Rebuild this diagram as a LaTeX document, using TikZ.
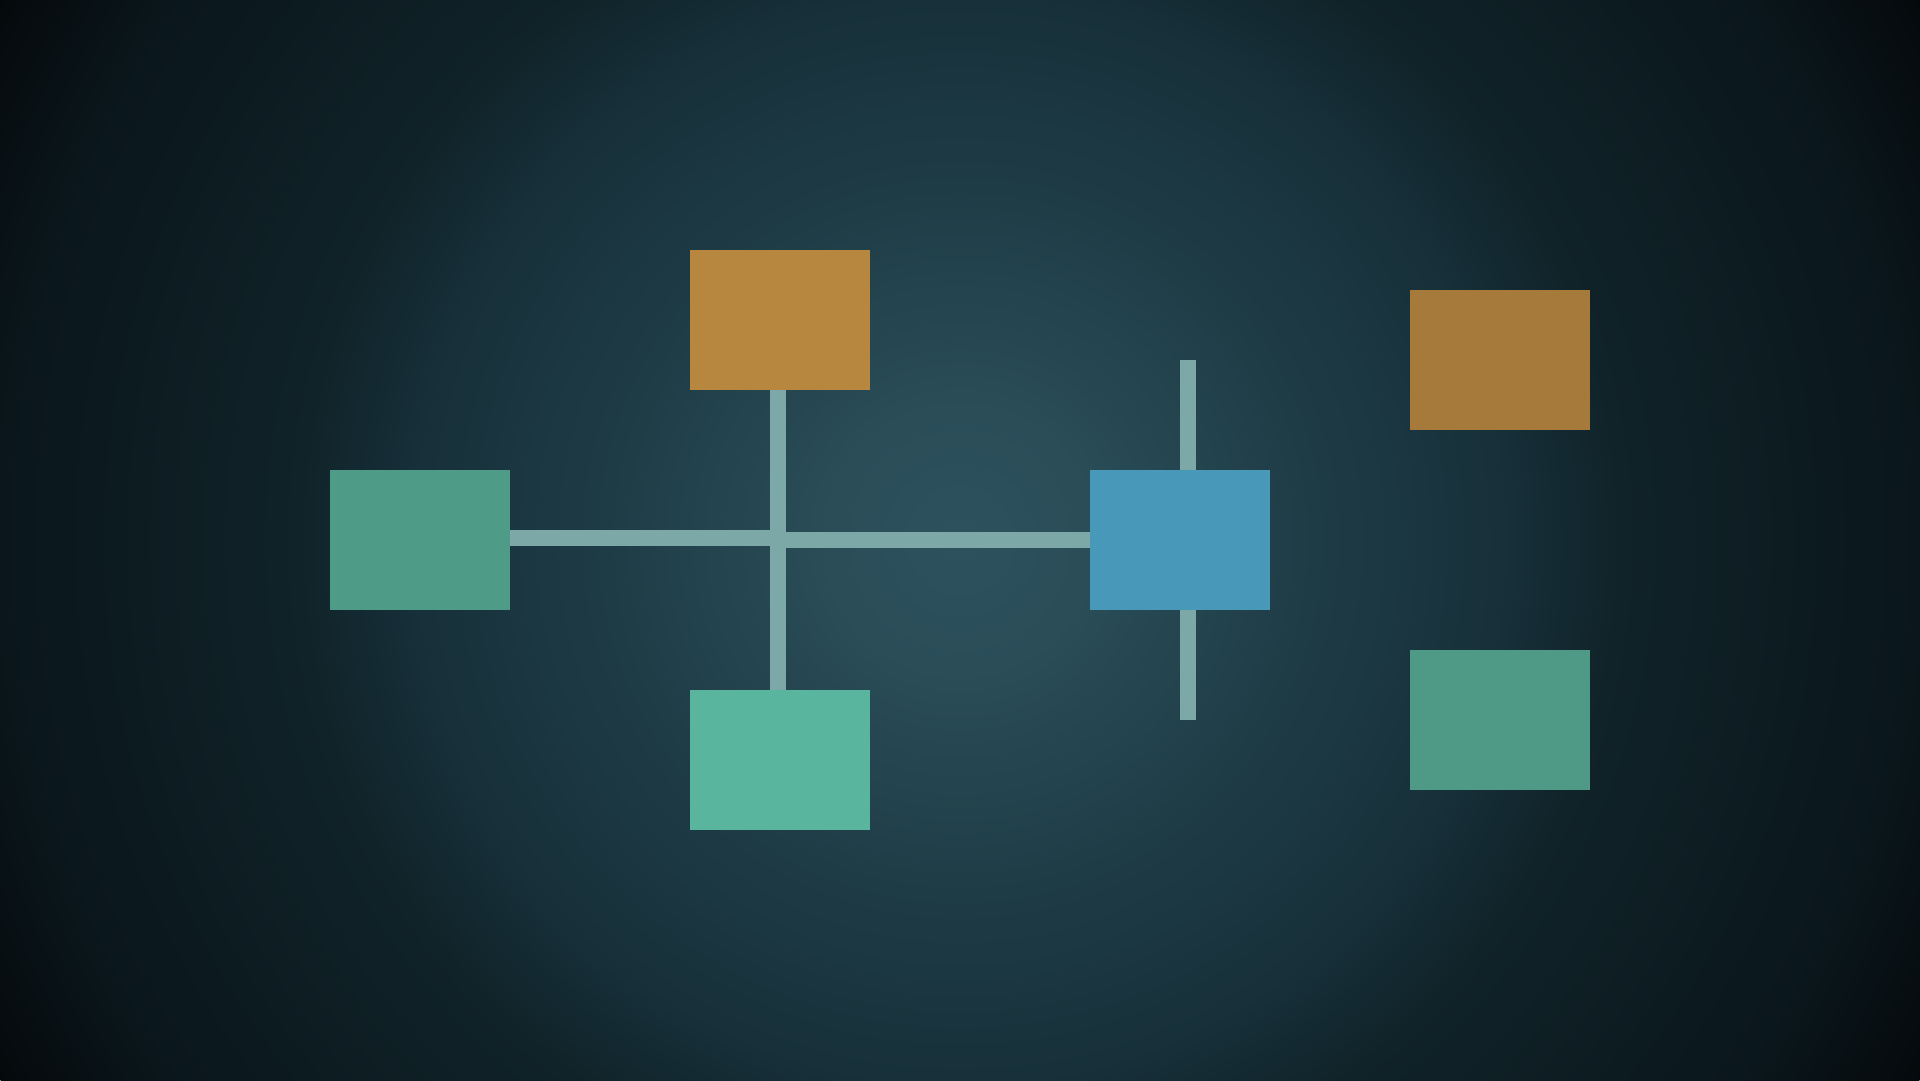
\documentclass[tikz,border=0pt]{standalone}
\usepackage{tikz}
\definecolor{bgA}{HTML}{2D525E}
\definecolor{bgB}{HTML}{2A4D58}
\definecolor{bgC}{HTML}{1F3D47}
\definecolor{bgD}{HTML}{17303A}
\definecolor{bgE}{HTML}{102329}
\definecolor{bgF}{HTML}{0A161B}
\definecolor{bgG}{HTML}{05090C}
\definecolor{bgH}{HTML}{030507}
\definecolor{orangeA}{HTML}{B8873F}
\definecolor{orangeB}{HTML}{A67A3A}
\definecolor{tealA}{HTML}{4E9C88}
\definecolor{tealB}{HTML}{5AB59E}
\definecolor{tealC}{HTML}{4E9A87}
\definecolor{blueA}{HTML}{4899B9}
\definecolor{linkC}{HTML}{7CA9A8}
\pgfdeclareradialshading{vign}{\pgfpoint{0bp}{0bp}}{%
color(0bp)=(bgA); color(3bp)=(bgB); color(7.7bp)=(bgC); color(12.3bp)=(bgD);
color(15bp)=(bgE); color(21.8bp)=(bgF); color(25bp)=(bgG); color(50bp)=(bgH)}
\pgfdeclarelayer{backdrop}
\pgfdeclarelayer{links}
\pgfsetlayers{backdrop,links,main}
\tikzset{
  box/.style={rectangle, draw=none, minimum width=180pt, minimum height=140pt, inner sep=0pt, outer sep=0pt},
  link/.style={draw=linkC, line width=16pt, line cap=butt}
}
\begin{document}
\begin{tikzpicture}[x=1pt,y=-1pt]
\useasboundingbox (0,0) rectangle (1920,1080);
\begin{pgfonlayer}{backdrop}
\fill[bgH] (0,0) rectangle (1920,1080);
\begin{scope}
\clip (0,0) rectangle (1920,1080);
\shade[shading=vign] (960,540) circle[radius=1101pt];
\end{scope}
\end{pgfonlayer}
% nodes
\node[box, fill=orangeA] (top) at (780,320) {};
\node[box, fill=tealA] (left) at (420,540) {};
\node[box, fill=tealB] (bottom) at (780,760) {};
\node[box, fill=blueA] (hubr) at (1180,540) {};
\node[box, fill=orangeB] (ro) at (1500,360) {};
\node[box, fill=tealC] (rt) at (1500,720) {};
\coordinate (hub) at (778,540);
\coordinate (rtop) at (1188,360);
\coordinate (rbot) at (1188,720);
% connectors (behind boxes)
\begin{pgfonlayer}{links}
\path[link] (top.south -| hub) -- (bottom.north -| hub);
\path[link] ([yshift=2pt]left.east) -- ([yshift=2pt]hub);
\path[link] (hub) -- (hubr.west);
\path[link] (rtop) -- (rbot);
\end{pgfonlayer}
\end{tikzpicture}
\end{document}
